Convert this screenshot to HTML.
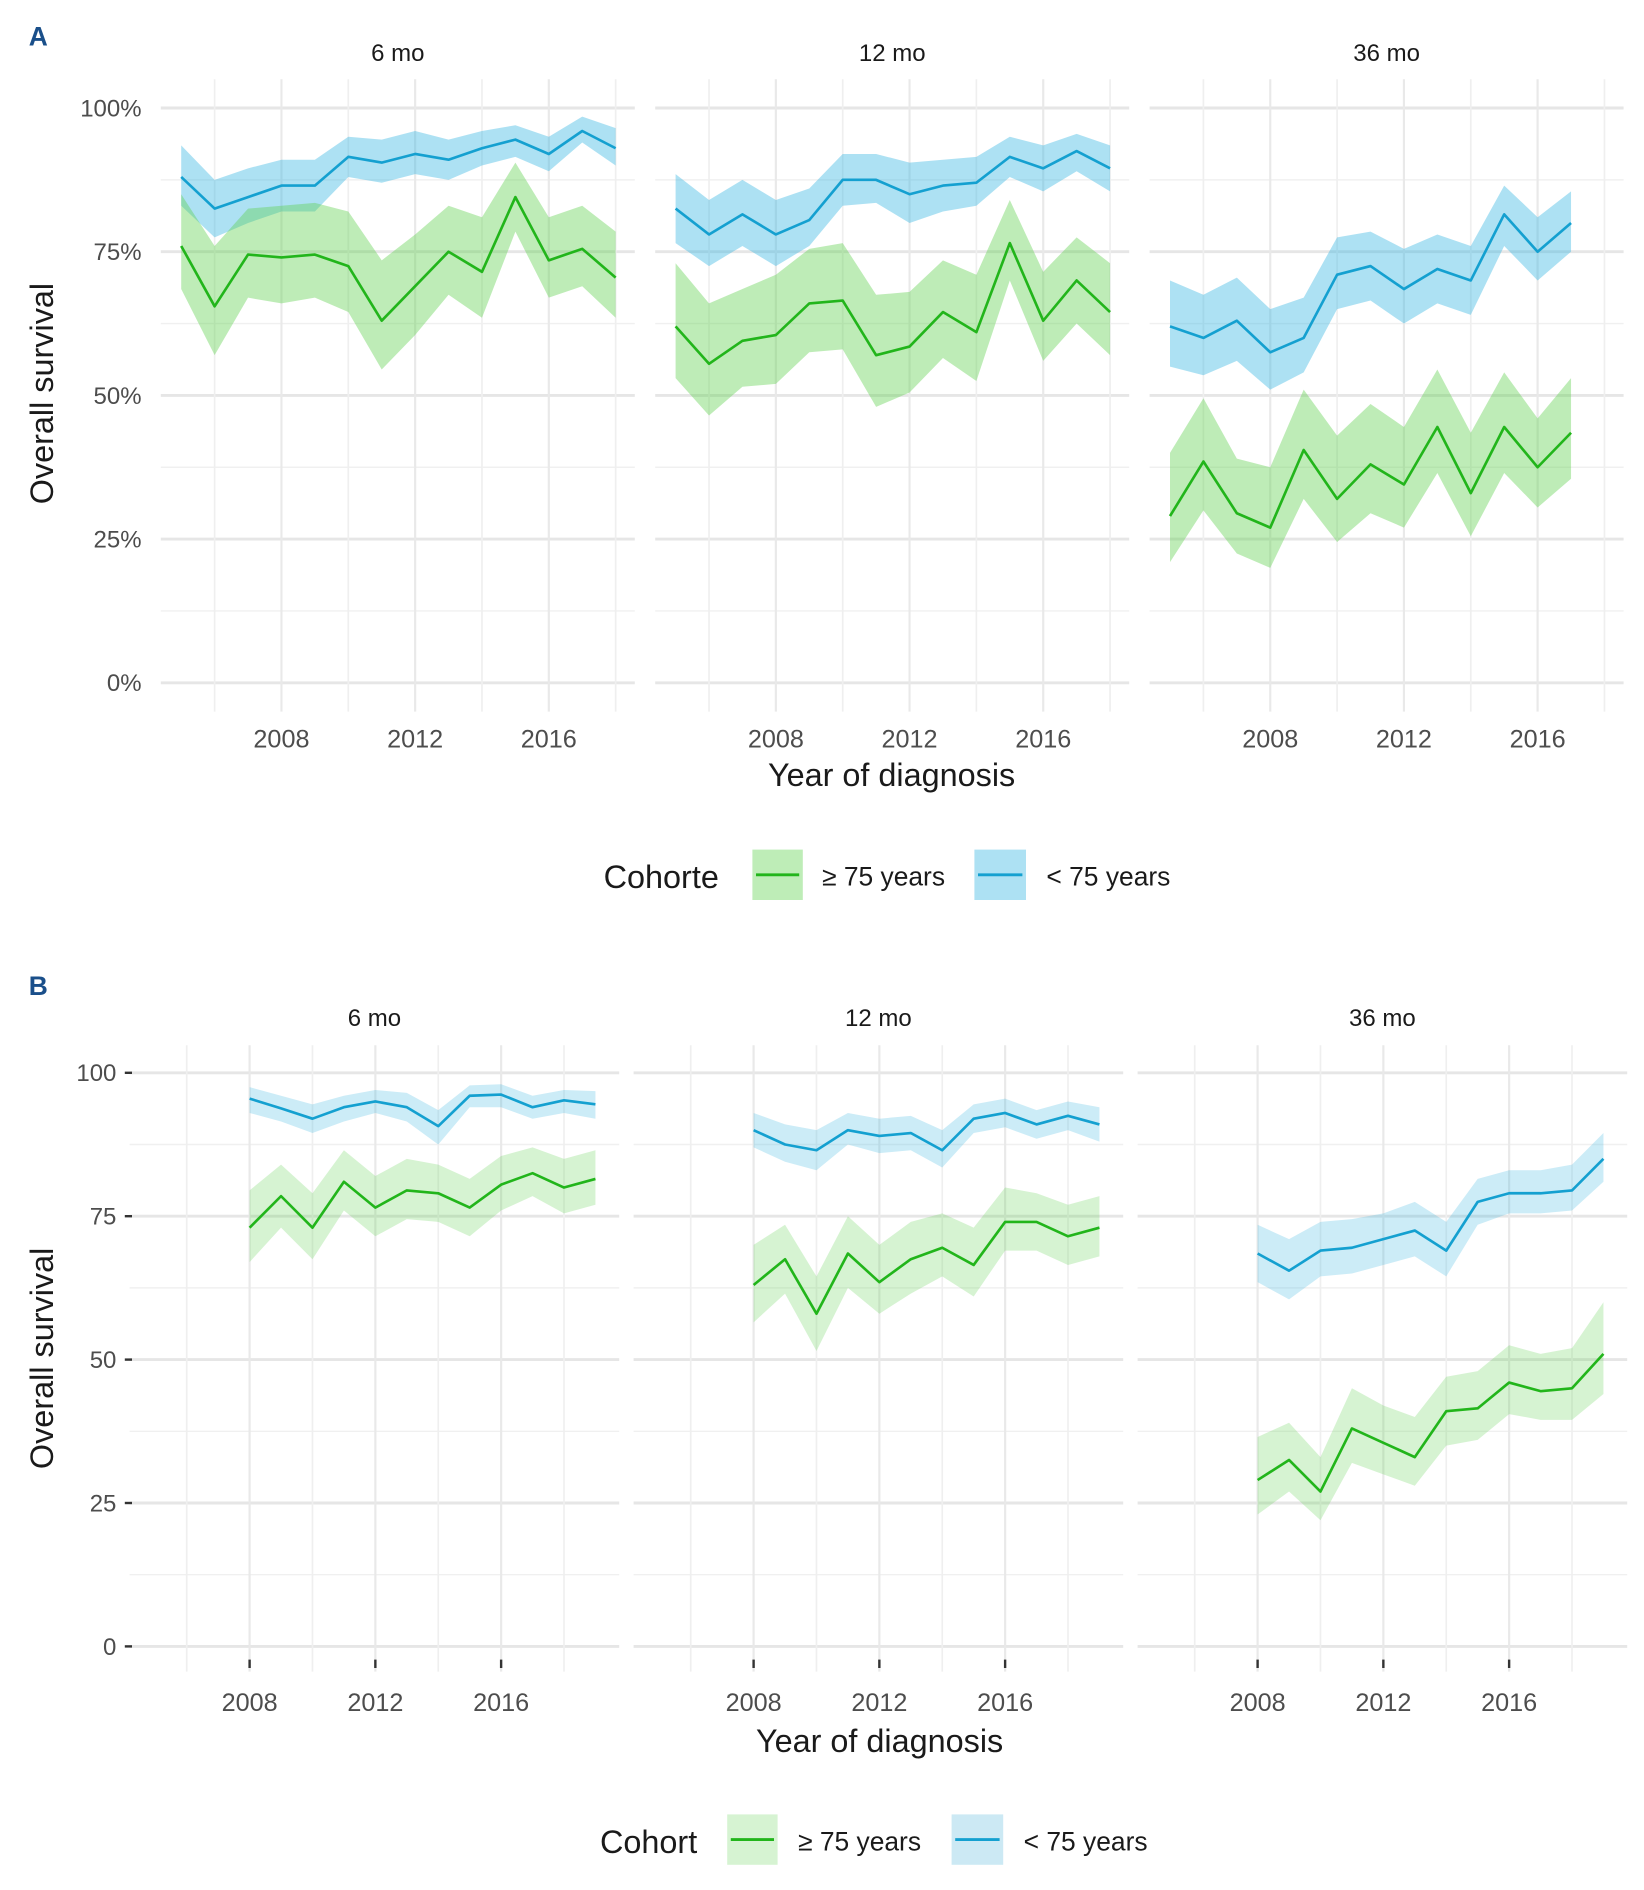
<!DOCTYPE html>
<html><head><meta charset="utf-8"><style>
html,body{margin:0;padding:0;background:#fff}
svg{display:block}
text{font-family:"Liberation Sans",sans-serif}
</style></head><body>
<svg id="chart" width="1644" height="1890" viewBox="0 0 1370 1575" xmlns="http://www.w3.org/2000/svg">
<g id="grid"></g><g id="marks"></g><g id="labels"></g>
</svg>
<script>
const yearsA = [2005,2006,2007,2008,2009,2010,2011,2012,2013,2014,2015,2016,2017,2018];
const yearsA36 = [2005,2006,2007,2008,2009,2010,2011,2012,2013,2014,2015,2016,2017];
const yearsB = [2008,2009,2010,2011,2012,2013,2014,2015,2016,2017,2018,2019];

const a6Young = [88,82.5,84.5,86.5,86.5,91.5,90.5,92,91,93,94.5,92,96,93];
const a6YoungHi = [93.5,87.5,89.5,91,91,95,94.5,96,94.5,96,97,95,98.5,96.5];
const a6YoungLo = [83,77.5,80,82,82,88,87,88.5,87.5,90,91.5,89,94,90];
const a6Old = [76,65.5,74.5,74,74.5,72.5,63,69,75,71.5,84.5,73.5,75.5,70.5];
const a6OldHi = [85,76,82.5,83,83.5,82,73.5,78,83,81,90.5,81,83,78.5];
const a6OldLo = [68.5,57,67,66,67,64.5,54.5,60.5,67.5,63.5,78.5,67,69,63.5];

const a12Young = [82.5,78,81.5,78,80.5,87.5,87.5,85,86.5,87,91.5,89.5,92.5,89.5];
const a12YoungHi = [88.5,84,87.5,84,86,92,92,90.5,91,91.5,95,93.5,95.5,93.5];
const a12YoungLo = [76.5,72.5,76,72.5,76,83,83.5,80,82,83,88,85.5,89,85.5];
const a12Old = [62,55.5,59.5,60.5,66,66.5,57,58.5,64.5,61,76.5,63,70,64.5];
const a12OldHi = [73,66,68.5,71,75.5,76.5,67.5,68,73.5,71,84,71.5,77.5,73];
const a12OldLo = [53,46.5,51.5,52,57.5,58,48,50.5,56.5,52.5,70,56,62.5,57];

const a36Young = [62,60,63,57.5,60,71,72.5,68.5,72,70,81.5,75,80];
const a36YoungHi = [70,67.5,70.5,65,67,77.5,78.5,75.5,78,76,86.5,81,85.5];
const a36YoungLo = [55,53.5,56,51,54,65,66.5,62.5,66,64,76,70,75];
const a36Old = [29,38.5,29.5,27,40.5,32,38,34.5,44.5,33,44.5,37.5,43.5];
const a36OldHi = [40,49.5,39,37.5,51,43,48.5,44.5,54.5,43.5,54,46,53];
const a36OldLo = [21,30,22.5,20,32,24.5,29.5,27,36.5,25.5,36.5,30.5,35.5];

const b6Young = [95.5,93.8,92,94,95,94,90.7,96,96.2,94,95.2,94.5];
const b6YoungHi = [97.5,96,94.5,96,97,96.5,93.5,97.8,98,96,97,96.8];
const b6YoungLo = [93,91.5,89.5,91.5,93,91.5,87.5,94,94,92,93,92];
const b6Old = [73,78.5,73,81,76.5,79.5,79,76.5,80.5,82.5,80,81.5];
const b6OldHi = [79.5,84,79,86.5,82,85,84,81.5,85.5,87,85,86.5];
const b6OldLo = [67,73,67.5,76,71.5,74.5,74,71.5,76,78.5,75.5,77];

const b12Young = [90,87.5,86.5,90,89,89.5,86.5,92,93,91,92.5,91];
const b12YoungHi = [93,91,90,93,92,92.5,90,94.5,95.5,93.5,95,94];
const b12YoungLo = [87,84.5,83,87.5,86,86.5,83.5,89.5,90.5,88.5,90,88];
const b12Old = [63,67.5,58,68.5,63.5,67.5,69.5,66.5,74,74,71.5,73];
const b12OldHi = [70,73.5,64.5,75,70,74,75.5,73,80,79,77,78.5];
const b12OldLo = [56.5,61.5,51.5,62.5,58,61.5,64.5,61,69,69,66.5,68];

const b36Young = [68.5,65.5,69,69.5,71,72.5,69,77.5,79,79,79.5,85];
const b36YoungHi = [73.5,71,74,74.5,75.5,77.5,74,81.5,83,83,84,89.5];
const b36YoungLo = [63.5,60.5,64.5,65,66.5,68,64.5,73.5,75.5,75.5,76,81];
const b36Old = [29,32.5,27,38,35.5,33,41,41.5,46,44.5,45,51];
const b36OldHi = [36.5,39,33,45,42,40,47,48,52.5,51,52,60];
const b36OldLo = [23,27,22,32,30,28,35,36,40.5,39.5,39.5,44];

const panelTitles = ["6 mo","12 mo","36 mo"];
const yTicksA = ["0%","25%","50%","75%","100%"];
const yTicksB = ["0","25","50","75","100"];
const yTickVals = [0,25,50,75,100];
const xTickVals = [2008,2012,2016];

const NS = "http://www.w3.org/2000/svg";
const grid = document.getElementById('grid'), marks = document.getElementById('marks'), labels = document.getElementById('labels');
function mk(tag, attrs, parent){const e=document.createElementNS(NS,tag);for(const k in attrs)e.setAttribute(k,attrs[k]);parent.appendChild(e);return e;}
function txt(s, attrs, parent){const e=mk('text',attrs,parent);e.textContent=s;return e;}

const A = {yZero:569, yPer:4.79, x0:151, step:27.85, baseYear:2005, off:412, left:134, right:529, top:66, bottom:593};
const B = {yZero:1372, yPer:4.78, x0:208, step:26.2, baseYear:2008, off:420, left:108, right:516, top:871, bottom:1393};

function xA(g,i,yr){return g.x0+g.off*i+(yr-g.baseYear)*g.step;}
function yA(g,v){return g.yZero-v*g.yPer;}

function drawGrid(g){
  for(let i=0;i<3;i++){
    const L=g.left+g.off*i, R=g.right+g.off*i;
    for(let v=0; v<=100; v+=12.5){
      const major = v%25===0;
      const l=mk('line',{x1:L,x2:R,y1:yA(g,v),y2:yA(g,v),stroke:major?'#e6e6e6':'#f0f0f0','stroke-width':major?2.4:1.2},grid);
      
      
    }
    for(let yr=2006; yr<=2018; yr+=2){
      const major = (yr%4===0);
      const x=xA(g,i,yr);
      const l=mk('line',{x1:x,x2:x,y1:g.top,y2:g.bottom,stroke:major?'#e9e9e9':'#efefef','stroke-width':major?1.8:1.4},grid);
      
      
    }
  }
}
drawGrid(A); drawGrid(B);

function drawSeries(g,i,years,mid,hi,lo,fill,stroke,op,name){
  let d='';
  years.forEach((yr,k)=>{d+=(k?'L':'M')+xA(g,i,yr)+' '+yA(g,hi[k]);});
  for(let k=years.length-1;k>=0;k--) d+='L'+xA(g,i,years[k])+' '+yA(g,lo[k]);
  const band=mk('path',{d:d+'Z',fill:fill,'fill-opacity':op},marks);
  
  
  const pts=years.map((yr,k)=>xA(g,i,yr)+','+yA(g,mid[k])).join(' ');
  const ln=mk('polyline',{points:pts,fill:'none',stroke:stroke,'stroke-width':2.2,'stroke-linejoin':'round'},marks);
  
  
}
const GF='#5ccf4a', BF='#33b5e0', GL='#22b51b', BL='#14a0d0';
drawSeries(A,0,yearsA,a6Young,a6YoungHi,a6YoungLo,BF,BL,0.4,'a-6mo-under75');
drawSeries(A,0,yearsA,a6Old,a6OldHi,a6OldLo,GF,GL,0.4,'a-6mo-over75');
drawSeries(A,1,yearsA,a12Young,a12YoungHi,a12YoungLo,BF,BL,0.4,'a-12mo-under75');
drawSeries(A,1,yearsA,a12Old,a12OldHi,a12OldLo,GF,GL,0.4,'a-12mo-over75');
drawSeries(A,2,yearsA36,a36Young,a36YoungHi,a36YoungLo,BF,BL,0.4,'a-36mo-under75');
drawSeries(A,2,yearsA36,a36Old,a36OldHi,a36OldLo,GF,GL,0.4,'a-36mo-over75');
drawSeries(B,0,yearsB,b6Young,b6YoungHi,b6YoungLo,BF,BL,0.25,'b-6mo-under75');
drawSeries(B,0,yearsB,b6Old,b6OldHi,b6OldLo,GF,GL,0.25,'b-6mo-over75');
drawSeries(B,1,yearsB,b12Young,b12YoungHi,b12YoungLo,BF,BL,0.25,'b-12mo-under75');
drawSeries(B,1,yearsB,b12Old,b12OldHi,b12OldLo,GF,GL,0.25,'b-12mo-over75');
drawSeries(B,2,yearsB,b36Young,b36YoungHi,b36YoungLo,BF,BL,0.25,'b-36mo-under75');
drawSeries(B,2,yearsB,b36Old,b36OldHi,b36OldLo,GF,GL,0.25,'b-36mo-over75');

function drawAxes(g, yLabels, stripY, tickY, tickMarks, labelX){
  yTickVals.forEach((v,k)=>{
    const t=txt(yLabels[k],{x:labelX,y:yA(g,v)+7,'text-anchor':'end','font-size':20,fill:'#4d4d4d'},labels);
    
    
    if(tickMarks){
      const m=mk('line',{x1:g.left-4,x2:g.left+2,y1:yA(g,v),y2:yA(g,v),stroke:'#333','stroke-width':2},labels);
      
      
    }
  });
  for(let i=0;i<3;i++){
    const cx=(g.left+g.right)/2+g.off*i;
    const s=txt(panelTitles[i],{x:cx,y:stripY,'text-anchor':'middle','font-size':20,fill:'#1a1a1a'},labels);
    
    
    xTickVals.forEach(yr=>{
      const x=xA(g,i,yr);
      const t=txt(String(yr),{x:x,y:tickY,'text-anchor':'middle','font-size':21,fill:'#4d4d4d'},labels);
      
      
      if(tickMarks){
        const m=mk('line',{x1:x,x2:x,y1:g.bottom-10,y2:g.bottom-3,stroke:'#333','stroke-width':2},labels);
        
        
      }
    });
  }
}
drawAxes(A,yTicksA,51,623,false,118);
drawAxes(B,yTicksB,855,1426,true,97);
</script>
<svg style="position:absolute;left:0;top:0" width="1644" height="1890" viewBox="0 0 1370 1575" xmlns="http://www.w3.org/2000/svg">
<text x="24" y="38" font-size="22" font-weight="bold" fill="#1a4f8a">A</text>
<text x="24" y="829" font-size="22" font-weight="bold" fill="#1a4f8a">B</text>
<text x="743" y="655" text-anchor="middle" font-size="27" fill="#1a1a1a">Year of diagnosis</text>
<text x="733" y="1460" text-anchor="middle" font-size="27" fill="#1a1a1a">Year of diagnosis</text>
<text transform="translate(44,328) rotate(-90)" text-anchor="middle" font-size="27" fill="#1a1a1a">Overall survival</text>
<text transform="translate(44,1132) rotate(-90)" text-anchor="middle" font-size="27" fill="#1a1a1a">Overall survival</text>
<g>
<text x="503" y="740" font-size="27" fill="#1a1a1a">Cohorte</text>
<rect x="627" y="708" width="42" height="42" fill="#beedb7"/>
<line x1="630" x2="666" y1="729" y2="729" stroke="#22b51b" stroke-width="2.4"/>
<text x="685" y="738" font-size="22" fill="#1a1a1a">≥ 75 years</text>
<rect x="812" y="708" width="43" height="42" fill="#ade1f3"/>
<line x1="815" x2="852" y1="729" y2="729" stroke="#14a0d0" stroke-width="2.4"/>
<text x="872" y="738" font-size="22" fill="#1a1a1a">&lt; 75 years</text>
</g>
<g>
<text x="500" y="1544" font-size="27" fill="#1a1a1a">Cohort</text>
<rect x="606" y="1512" width="42" height="42" fill="#d6f3d2"/>
<line x1="609" x2="645" y1="1533" y2="1533" stroke="#22b51b" stroke-width="2.4"/>
<text x="665" y="1542" font-size="22" fill="#1a1a1a">≥ 75 years</text>
<rect x="793" y="1512" width="43" height="42" fill="#cce9f4"/>
<line x1="796" x2="833" y1="1533" y2="1533" stroke="#14a0d0" stroke-width="2.4"/>
<text x="853" y="1542" font-size="22" fill="#1a1a1a">&lt; 75 years</text>
</g>
</svg>
</body></html>
